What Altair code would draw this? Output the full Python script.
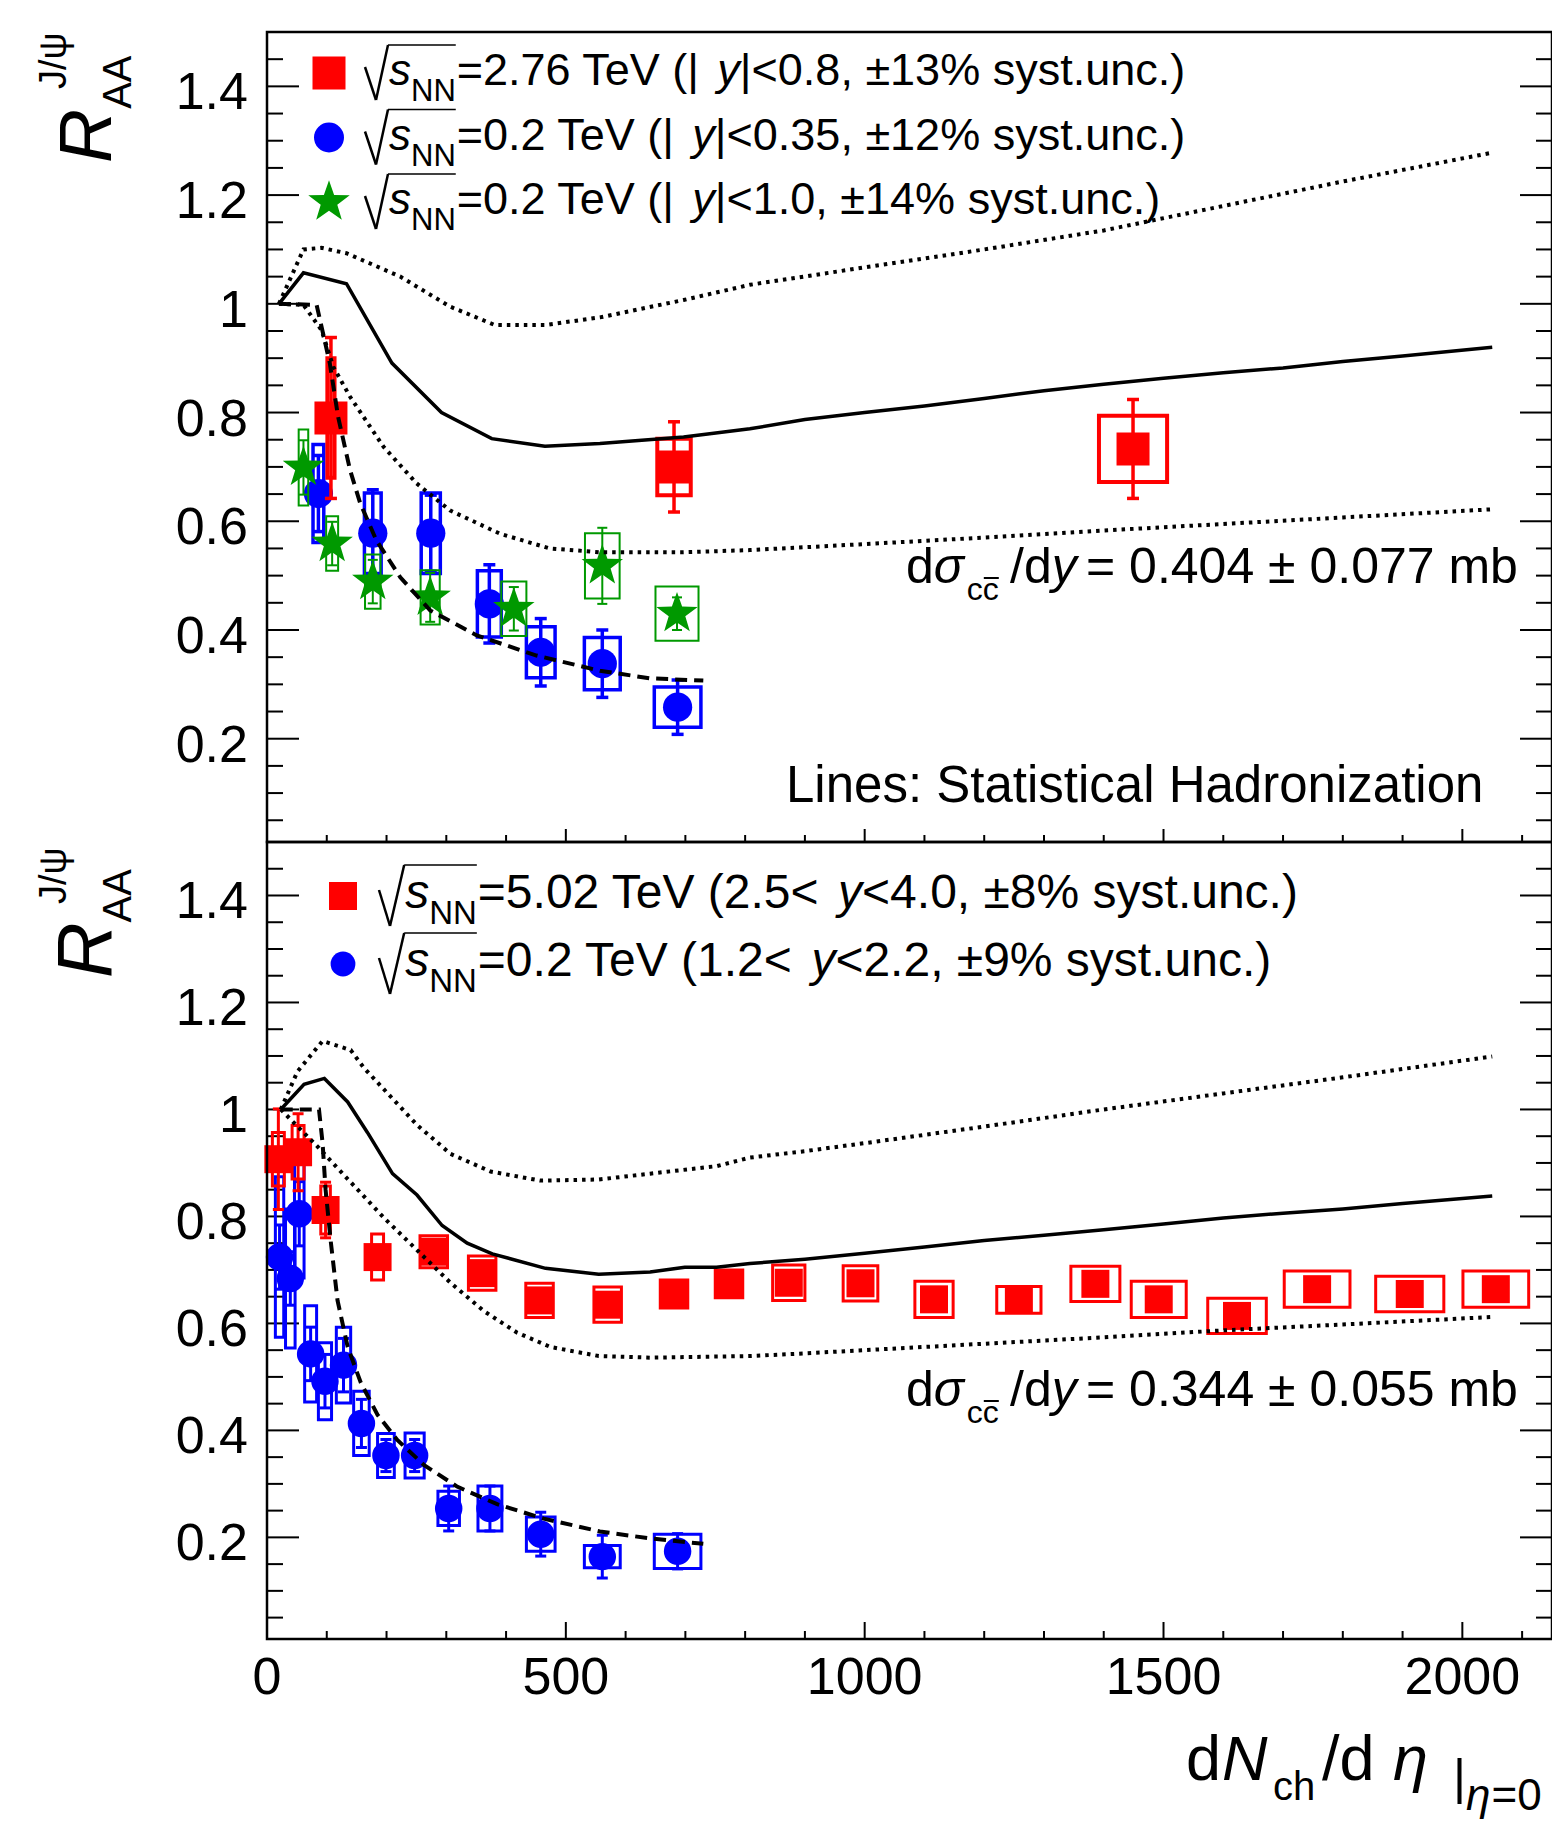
import math
import altair as alt
import pandas as pd

# ---------------- data ----------------
# Top panel: mid-rapidity
top_alice_x = [107, 681, 1449]
top_alice_y = [0.79, 0.70, 0.733]
top_alice_stat = [0.148, 0.083, 0.091]
top_alice_syst = [0.11, 0.052, 0.061]
top_alice_bw = [6, 28, 57]

top_star_x = [86, 177, 274, 372, 458, 561, 687]
top_star_y = [0.651, 0.578, 0.578, 0.448, 0.359, 0.338, 0.258]
top_star_stat = [0.07, 0.08, 0.07, 0.072, 0.062, 0.062, 0.05]
top_star_syst = [0.09, 0.074, 0.074, 0.061, 0.047, 0.048, 0.037]
top_star_bw = [9, 14, 16, 20, 24, 30, 39]

top_phx_x = [61, 109, 177, 273, 413, 561, 686]
top_phx_y = [0.699, 0.559, 0.489, 0.460, 0.439, 0.518, 0.430]
top_phx_stat = [0.05, 0.04, 0.04, 0.045, 0.04, 0.07, 0.03]
top_phx_syst = [0.07, 0.05, 0.05, 0.05, 0.05, 0.06, 0.05]
top_phx_bw = [8, 10, 13, 16, 21, 29, 36]

top_solid_x = [20, 61, 133, 209, 292, 376, 465, 557, 697, 808, 900, 1000, 1100, 1200, 1300, 1400, 1500, 1600, 1700, 1800, 1900, 2050]
top_solid_y = [1.0, 1.057, 1.037, 0.891, 0.800, 0.752, 0.738, 0.743, 0.755, 0.770, 0.787, 0.800, 0.812, 0.826, 0.840, 0.852, 0.863, 0.873, 0.882, 0.894, 0.904, 0.920]
top_up_x = [20, 61, 91, 133, 223, 306, 381, 465, 557, 697, 808, 1000, 1200, 1400, 1600, 1800, 2050]
top_up_y = [1.0, 1.10, 1.103, 1.093, 1.050, 0.995, 0.961, 0.961, 0.975, 1.007, 1.035, 1.067, 1.100, 1.135, 1.180, 1.225, 1.278]
top_lo_x = [20, 61, 91, 111, 139, 195, 250, 306, 390, 473, 557, 697, 808, 1000, 1200, 1400, 1600, 1800, 2050]
top_lo_y = [1.0, 0.998, 0.952, 0.884, 0.829, 0.737, 0.670, 0.620, 0.577, 0.550, 0.543, 0.543, 0.547, 0.558, 0.570, 0.583, 0.595, 0.607, 0.622]
top_dash_x = [20, 83, 105, 119, 139, 156, 183, 223, 273, 351, 451, 557, 641, 730]
top_dash_y = [1.0, 0.998, 0.891, 0.792, 0.694, 0.633, 0.565, 0.497, 0.436, 0.390, 0.353, 0.325, 0.311, 0.307]

# Bottom panel: forward rapidity
bot_alice_x = [19, 52, 98, 185, 279, 360, 456, 570, 681, 773, 873, 993, 1116, 1258, 1386, 1492, 1623, 1757, 1912, 2056]
bot_alice_y = [0.907, 0.92, 0.812, 0.724, 0.734, 0.694, 0.643, 0.635, 0.655, 0.674, 0.676, 0.675, 0.645, 0.644, 0.674, 0.645, 0.614, 0.664, 0.655, 0.664]
bot_alice_stat = [0.094, 0.072, 0.052, 0.02, 0.018, 0.018, 0.018, 0.018, 0.015, 0.015, 0.015, 0.015, 0.015, 0.015, 0.015, 0.015, 0.015, 0.015, 0.015, 0.015]
bot_alice_syst = [0.05, 0.05, 0.045, 0.043, 0.03, 0.032, 0.032, 0.033, 0.026, 0.026, 0.033, 0.033, 0.034, 0.025, 0.033, 0.034, 0.033, 0.034, 0.033, 0.034]
bot_alice_bw = [10, 10, 8, 10, 23, 23, 23, 23, 23, 23, 27, 29, 32, 37, 41, 46, 49, 55, 57, 55]

bot_phx_x = [21, 39, 54, 73, 97, 128, 158, 199, 247, 304, 373, 458, 561, 687]
bot_phx_y = [0.724, 0.684, 0.805, 0.543, 0.492, 0.522, 0.413, 0.353, 0.353, 0.254, 0.254, 0.206, 0.164, 0.174]
bot_phx_stat = [0.06, 0.05, 0.06, 0.05, 0.05, 0.05, 0.045, 0.03, 0.03, 0.042, 0.042, 0.041, 0.04, 0.033]
bot_phx_syst = [0.15, 0.13, 0.12, 0.09, 0.072, 0.071, 0.06, 0.041, 0.042, 0.032, 0.042, 0.032, 0.021, 0.032]
bot_phx_bw = [7, 8, 8, 10, 11, 12, 13, 14, 16, 18, 20, 24, 30, 39]

bot_solid_x = [23, 62, 96, 135, 168, 210, 251, 293, 335, 377, 466, 555, 641, 699, 752, 808, 900, 1000, 1100, 1200, 1300, 1400, 1500, 1600, 1700, 1800, 1900, 2050]
bot_solid_y = [1.0, 1.047, 1.058, 1.014, 0.957, 0.880, 0.840, 0.783, 0.750, 0.730, 0.703, 0.692, 0.696, 0.705, 0.705, 0.712, 0.720, 0.731, 0.743, 0.755, 0.765, 0.775, 0.786, 0.797, 0.806, 0.814, 0.824, 0.838]
bot_up_x = [23, 51, 93, 140, 162, 251, 307, 374, 457, 555, 641, 752, 808, 900, 1000, 1200, 1400, 1600, 1800, 2050]
bot_up_y = [1.0, 1.071, 1.128, 1.111, 1.078, 0.971, 0.917, 0.884, 0.867, 0.869, 0.880, 0.894, 0.910, 0.922, 0.937, 0.968, 1.000, 1.030, 1.060, 1.099]
bot_lo_x = [23, 85, 140, 196, 251, 307, 363, 418, 474, 555, 641, 808, 900, 1000, 1200, 1400, 1600, 1800, 2050]
bot_lo_y = [1.0, 0.930, 0.864, 0.797, 0.737, 0.676, 0.623, 0.583, 0.556, 0.539, 0.536, 0.539, 0.544, 0.550, 0.562, 0.574, 0.587, 0.598, 0.612]
bot_dash_x = [23, 87, 93, 98, 107, 118, 135, 157, 185, 218, 263, 318, 385, 463, 557, 641, 730]
bot_dash_y = [1.0, 1.0, 0.937, 0.850, 0.750, 0.643, 0.556, 0.489, 0.429, 0.382, 0.335, 0.295, 0.262, 0.235, 0.211, 0.198, 0.188]

# axis ticks and labels
y_major = [0.2, 0.4, 0.6, 0.8, 1.0, 1.2, 1.4]
y_labels = ["0.2", "0.4", "0.6", "0.8", "1", "1.2", "1.4"]
y_minor = [round(0.05 * i, 2) for i in range(1, 31) if i % 4 != 0]
x_major = [0, 500, 1000, 1500, 2000]
x_labels = ["0", "500", "1000", "1500", "2000"]
x_minor = [100 * i for i in range(1, 22) if i % 5 != 0]

top_legend = [
    ("=2.76 TeV (| ", "y", "|<0.8, \u00b113% syst.unc.)"),
    ("=0.2 TeV (| ", "y", "|<0.35, \u00b112% syst.unc.)"),
    ("=0.2 TeV (| ", "y", "|<1.0, \u00b114% syst.unc.)"),
]
bot_legend = [
    ("=5.02 TeV (2.5< ", "y", "<4.0, \u00b18% syst.unc.)"),
    ("=0.2 TeV (1.2< ", "y", "<2.2, \u00b19% syst.unc.)"),
]
top_sigma = "= 0.404 \u00b1 0.077 mb"
bot_sigma = "= 0.344 \u00b1 0.055 mb"

# ---------------- layout ----------------
FONT = "Liberation Sans"
X0, Y0 = 267, 32
W_PLOT = 1285
H_TOP = 810
H_ALL = 1607
RED, BLUE, GREEN = "#ff0000", "#0000ff", "#009900"
DOT = [3.5, 5]
DASH = [12, 7]

xs = alt.Scale(domain=[0, 2150], nice=False, zero=False)
yT = alt.Scale(domain=[0.01, 1.5], range=[H_TOP, 0], nice=False, zero=False)
yB = alt.Scale(domain=[0.01, 1.5], range=[H_ALL, H_TOP], nice=False, zero=False)

ONE = pd.DataFrame({"a": [0]})

AW = {' ': 278, '.': 278, ',': 278, '=': 584, '<': 584, '\u00b1': 549, '%': 889, '(': 333, ')': 333,
      '|': 260, '/': 278, 'T': 611, 'e': 556, 'V': 667, 's': 500, 'y': 500, 't': 278, 'u': 556,
      'n': 556, 'c': 500, 'N': 722, 'd': 556, 'm': 833, 'b': 556, 'L': 556, 'i': 222, 'a': 556,
      'l': 222, 'H': 722, 'r': 333, 'o': 556, 'z': 500, 'S': 667, 'h': 556, 'A': 667, 'R': 722,
      'J': 500, '\u03c3': 600, '\u03b7': 556, '\u03c8': 700}


def tw(s, size):
    return sum(AW.get(ch, 556) for ch in s) / 1000.0 * size


def txt(s, fx, fy, size, italic=False, angle=0, align="left"):
    kw = dict(text=s, font=FONT, fontSize=size, align=align, baseline="alphabetic", color="black")
    if italic:
        kw["fontStyle"] = "italic"
    if angle:
        kw["angle"] = angle
    return alt.Chart(ONE).mark_text(**kw).encode(x=alt.value(fx - X0), y=alt.value(fy - Y0))


def seg(x1, y1, x2, y2, w=2.5, color="black"):
    return alt.Chart(ONE).mark_rule(color=color, strokeWidth=w).encode(
        x=alt.value(x1 - X0), y=alt.value(y1 - Y0), x2=alt.value(x2 - X0), y2=alt.value(y2 - Y0))


def mk_df(x, y, stat, syst, bw):
    return pd.DataFrame({
        "x": x, "y": y,
        "slo": [a - b for a, b in zip(y, stat)], "shi": [a + b for a, b in zip(y, stat)],
        "blo": [a - b for a, b in zip(y, syst)], "bhi": [a + b for a, b in zip(y, syst)],
        "xlo": [a - b for a, b in zip(x, bw)], "xhi": [a + b for a, b in zip(x, bw)],
    })


star_pts = []
for k in range(10):
    ang = math.radians(-90 + 36 * k)
    r = 1.0 if k % 2 == 0 else 0.4
    star_pts.append(f"{r * math.cos(ang):.4f},{r * math.sin(ang):.4f}")
STAR = "M" + " L".join(star_pts) + " Z"


def marker_mark(chart, kind, color, size):
    if kind == "square":
        return chart.mark_square(color=color, size=size, opacity=1, strokeWidth=0)
    if kind == "circle":
        return chart.mark_circle(color=color, size=size, opacity=1, strokeWidth=0)
    return chart.mark_point(shape=STAR, filled=True, color=color, size=size, opacity=1, strokeWidth=0)


def data_layers(df, ys, color, kind, msize, boxw, barw, cap):
    X = alt.X("x:Q", scale=xs, axis=None)
    box = alt.Chart(df).mark_rect(filled=False, stroke=color, strokeWidth=boxw).encode(
        x=alt.X("xlo:Q", scale=xs, axis=None), x2="xhi:Q",
        y=alt.Y("blo:Q", scale=ys, axis=None), y2="bhi:Q")
    bar = alt.Chart(df).mark_rule(color=color, strokeWidth=barw).encode(
        x=X, y=alt.Y("slo:Q", scale=ys, axis=None), y2="shi:Q")
    c1 = alt.Chart(df).mark_tick(orient="horizontal", color=color, size=cap, thickness=barw, opacity=1).encode(
        x=X, y=alt.Y("slo:Q", scale=ys, axis=None))
    c2 = alt.Chart(df).mark_tick(orient="horizontal", color=color, size=cap, thickness=barw, opacity=1).encode(
        x=X, y=alt.Y("shi:Q", scale=ys, axis=None))
    m = marker_mark(alt.Chart(df), kind, color, msize).encode(x=X, y=alt.Y("y:Q", scale=ys, axis=None))
    return [box, bar, c1, c2, m]


def curve(x, y, ys, dash=None, w=3.5):
    kw = dict(color="black", strokeWidth=w)
    if dash:
        kw["strokeDash"] = dash
    return alt.Chart(pd.DataFrame({"x": x, "y": y})).mark_line(**kw).encode(
        x=alt.X("x:Q", scale=xs, axis=None), y=alt.Y("y:Q", scale=ys, axis=None))


def tick_layers(ys, bottom_px, xmaj_len, xmin_len):
    dmaj = pd.DataFrame({"v": y_major, "lab": y_labels})
    dmin = pd.DataFrame({"v": y_minor})
    Y = alt.Y("v:Q", scale=ys, axis=None)
    out = []
    for d, L in ((dmaj, 32), (dmin, 16)):
        out.append(alt.Chart(d).mark_rule(color="black", strokeWidth=2).encode(
            y=Y, x=alt.value(0), x2=alt.value(L)))
        out.append(alt.Chart(d).mark_rule(color="black", strokeWidth=2).encode(
            y=Y, x=alt.value(W_PLOT - L), x2=alt.value(W_PLOT)))
    out.append(alt.Chart(dmaj).mark_text(font=FONT, fontSize=52, align="right", baseline="alphabetic",
                                         dy=23, color="black").encode(
        y=Y, x=alt.value(-19), text="lab:N"))
    XS = alt.X("v:Q", scale=xs, axis=None)
    out.append(alt.Chart(pd.DataFrame({"v": x_major})).mark_rule(color="black", strokeWidth=2).encode(
        x=XS, y=alt.value(bottom_px), y2=alt.value(bottom_px - xmaj_len)))
    out.append(alt.Chart(pd.DataFrame({"v": x_minor})).mark_rule(color="black", strokeWidth=2).encode(
        x=XS, y=alt.value(bottom_px), y2=alt.value(bottom_px - xmin_len)))
    return out


# ---------------- top panel ----------------
top_layers = []
top_layers += tick_layers(yT, H_TOP, 13, 7)
top_layers += data_layers(mk_df(top_star_x, top_star_y, top_star_stat, top_star_syst, top_star_bw),
                          yT, BLUE, "circle", 855, 3.5, 3.5, 12)
top_layers += data_layers(mk_df(top_phx_x, top_phx_y, top_phx_stat, top_phx_syst, top_phx_bw),
                          yT, GREEN, "star", 1900, 2, 2, 10)
top_layers += data_layers(mk_df(top_alice_x, top_alice_y, top_alice_stat, top_alice_syst, top_alice_bw),
                          yT, RED, "square", 1089, 4, 3.5, 12)
top_layers += [
    curve(top_up_x, top_up_y, yT, DOT, 4),
    curve(top_lo_x, top_lo_y, yT, DOT, 4),
    curve(top_dash_x, top_dash_y, yT, DASH, 4),
    curve(top_solid_x, top_solid_y, yT, None, 3.5),
]

# ---------------- bottom panel ----------------
bot_layers = []
bot_layers += tick_layers(yB, H_ALL, 17, 8)
bot_layers.append(alt.Chart(pd.DataFrame({"v": x_major, "lab": x_labels})).mark_text(
    font=FONT, fontSize=52, align="center", baseline="alphabetic", color="black").encode(
    x=alt.X("v:Q", scale=xs, axis=None), y=alt.value(1694 - Y0), text="lab:N"))
bot_layers += data_layers(mk_df(bot_phx_x, bot_phx_y, bot_phx_stat, bot_phx_syst, bot_phx_bw),
                          yB, BLUE, "circle", 755, 3, 3, 11)
bot_layers += data_layers(mk_df(bot_alice_x, bot_alice_y, bot_alice_stat, bot_alice_syst, bot_alice_bw),
                          yB, RED, "square", 784, 3, 3, 11)
bot_layers += [
    curve(bot_up_x, bot_up_y, yB, DOT, 4),
    curve(bot_lo_x, bot_lo_y, yB, DOT, 4),
    curve(bot_dash_x, bot_dash_y, yB, DASH, 4),
    curve(bot_solid_x, bot_solid_y, yB, None, 3.5),
]

# ---------------- decorations (frames, legends, titles) ----------------
deco = []
deco.append(alt.Chart(ONE).mark_rect(filled=False, stroke="black", strokeWidth=2.5).encode(
    x=alt.value(0), x2=alt.value(W_PLOT), y=alt.value(0), y2=alt.value(H_TOP)))
deco.append(alt.Chart(ONE).mark_rect(filled=False, stroke="black", strokeWidth=2.5).encode(
    x=alt.value(0), x2=alt.value(W_PLOT), y=alt.value(H_TOP), y2=alt.value(H_ALL)))


def legend_row(mx, cy, kind, color, msize, rad_x, s_size, nn_size, main_size, parts, rh):
    out = [marker_mark(alt.Chart(ONE), kind, color, msize).encode(x=alt.value(mx - X0), y=alt.value(cy - Y0))]
    x_s = rad_x + 24 * s_size / 44.0
    x_nn = x_s + tw("s", s_size)
    x_end = x_nn + tw("NN", nn_size)
    out += [seg(rad_x, cy - 6, rad_x + 11, cy + rh, 2.5),
            seg(rad_x + 11, cy + rh, x_s - 1, cy - rh - 1, 2.5),
            seg(x_s - 1, cy - rh - 1, x_end, cy - rh - 1, 1.5)]
    out.append(txt("s", x_s, cy + 12, s_size, italic=True))
    out.append(txt("NN", x_nn, cy + 28, nn_size))
    x = x_end + 1
    a, b, c = parts
    out.append(txt(a, x, cy + 12, main_size))
    x += tw(a, main_size)
    out.append(txt(b, x, cy + 12, main_size, italic=True))
    x += tw(b, main_size)
    out.append(txt(c, x, cy + 12, main_size))
    return out


deco += legend_row(329, 73, "square", RED, 1089, 365, 44, 31, 45, top_legend[0], 27)
deco += legend_row(329, 137.5, "circle", BLUE, 900, 365, 44, 31, 45, top_legend[1], 27)
deco += legend_row(329, 202, "star", GREEN, 1900, 365, 44, 31, 45, top_legend[2], 27)
deco += legend_row(343, 896, "square", RED, 784, 379, 48, 33, 48, bot_legend[0], 30)
deco += legend_row(343, 964, "circle", BLUE, 615, 379, 48, 33, 48, bot_legend[1], 30)


def sigma_text(base, value):
    out = []
    fs = 50
    x = 906
    out.append(txt("d", x, base, fs)); x += tw("d", fs)
    out.append(txt("\u03c3", x, base, fs, italic=True)); x += tw("\u03c3", fs) + 3
    out.append(txt("cc", x, base + 17, 32))
    out.append(seg(x + tw("c", 32) + 1, base - 5, x + tw("cc", 32), base - 5, 2))
    x = 1010
    out.append(txt("/d", x, base, fs)); x += tw("/d", fs)
    out.append(txt("y", x, base, fs, italic=True))
    out.append(txt(value, 1086, base, fs))
    return out


deco += sigma_text(583, top_sigma)
deco += sigma_text(1406, bot_sigma)
deco.append(txt("Lines: Statistical Hadronization", 786, 802, 51))


def ytitle(dy, rsize):
    out = []
    out.append(txt("R", 111, 163 + dy, rsize, italic=True, angle=270))
    out.append(txt("AA", 131, 163 + dy - tw("R", rsize), 40, angle=270))
    out.append(txt("J/\u03c8", 66, 89 + dy, 38, angle=270))
    return out


deco += ytitle(0, 75)
deco += ytitle(815, 77)

# x-axis title
deco += [
    txt("d", 1186, 1780, 63),
    txt("N", 1222, 1780, 63, italic=True),
    txt("ch", 1273, 1800, 40),
    txt("/d", 1322, 1780, 63),
    txt("\u03b7", 1393, 1780, 63, italic=True),
    txt("|", 1453, 1794, 50),
    txt("\u03b7", 1466, 1810, 44, italic=True),
    txt("=0", 1466 + tw("\u03b7", 44) + 1, 1810, 44),
]

chart = alt.layer(
    alt.layer(*top_layers),
    alt.layer(*bot_layers),
    alt.layer(*deco),
).resolve_scale(y="independent").properties(
    width=W_PLOT, height=H_ALL,
    padding={"left": X0, "top": Y0, "right": 0, "bottom": 1822 - Y0 - H_ALL},
    autosize=alt.AutoSizeParams(type="none"),
    background="white",
).configure_view(strokeWidth=0)

chart.save("out.html", embed_options={"renderer": "svg", "actions": False})
